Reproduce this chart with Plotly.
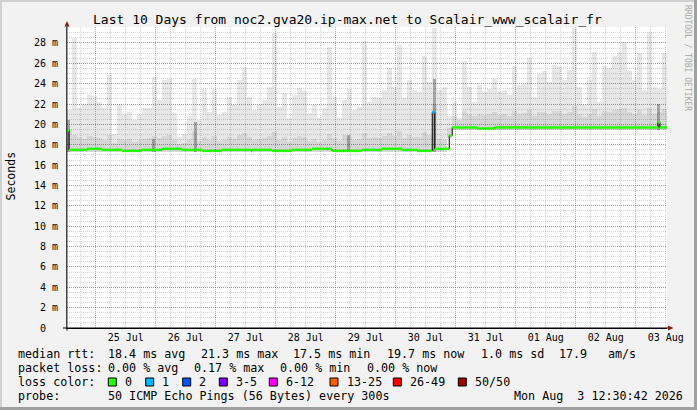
import plotly.graph_objects as go
import pandas as pd

# ---------------- data ----------------
START = "2026-07-24 12:30:42"
END = "2026-08-03 12:30:42"
BIN_HOURS = 2

# smoke envelope per 2-hour bin (ms)
smoke_max = [
    21.4, 28.5, 21.6, 22.0, 22.9, 22.8, 22.2, 21.6, 24.9, 19.1,
    22.0, 21.0, 21.2, 20.4, 20.9, 21.6, 21.6, 24.7, 22.4, 24.4,
    24.5, 21.1, 18.8, 19.1, 20.8, 24.5, 20.4, 23.5, 21.2, 23.5,
    20.9, 21.2, 22.7, 21.9, 24.4, 25.6, 22.7, 21.4, 21.9, 22.4,
    23.7, 29.0, 21.7, 23.1, 20.6, 22.9, 23.6, 23.3, 21.1, 21.9,
    20.6, 21.6, 27.6, 22.7, 20.6, 22.4, 23.5, 21.4, 21.7, 28.2,
    22.2, 22.7, 22.6, 23.4, 25.5, 23.7, 27.8, 22.6, 24.4, 23.4,
    23.2, 26.7, 24.2, 29.5, 23.4, 23.7, 20.8, 22.2, 20.4, 26.2,
    23.7, 22.2, 23.9, 23.2, 23.5, 24.5, 23.2, 23.4, 22.9, 25.7,
    23.9, 24.0, 26.5, 22.7, 25.0, 25.2, 24.2, 25.8, 25.7, 24.4,
    25.3, 29.5, 23.7, 21.9, 24.4, 27.1, 22.2, 25.7, 25.5, 26.7,
    27.1, 28.1, 25.2, 24.4, 27.0, 23.4, 29.1, 23.7, 23.5, 27.0,
]
smoke_mid = [
    19.5, 19.0, 18.8, 18.6, 18.9, 18.8, 18.7, 18.5, 19.0, 18.2,
    18.6, 18.5, 18.6, 18.3, 18.5, 18.6, 18.7, 18.9, 18.7, 18.9,
    19.0, 18.5, 18.1, 18.2, 18.5, 19.4, 18.4, 18.8, 18.5, 18.9,
    18.4, 18.5, 18.8, 18.6, 19.0, 19.2, 18.8, 18.5, 18.6, 18.7,
    18.9, 19.3, 18.5, 18.8, 18.3, 18.7, 18.9, 18.8, 18.4, 18.6,
    18.3, 18.5, 19.1, 18.7, 18.4, 19.0, 18.9, 18.5, 18.6, 19.2,
    18.7, 18.8, 18.7, 18.9, 19.2, 18.9, 19.4, 18.7, 19.0, 18.8,
    18.8, 19.3, 19.0, 22.0, 18.6, 18.5, 19.6, 20.8, 20.6, 21.3,
    21.0, 20.8, 21.0, 20.9, 21.0, 21.2, 20.9, 21.0, 20.8, 21.3,
    21.0, 21.1, 21.4, 20.8, 21.2, 21.2, 21.0, 21.3, 21.3, 21.0,
    21.2, 21.8, 21.0, 20.7, 21.0, 21.5, 20.8, 21.3, 21.2, 21.4,
    21.5, 21.6, 21.2, 21.0, 21.4, 20.9, 21.6, 21.0, 21.2, 21.5,
]
smoke_lo = [
    17.3, 17.3, 17.3, 17.3, 17.3, 17.3, 17.3, 17.3, 17.3, 17.3,
    17.3, 17.3, 17.3, 17.3, 17.3, 17.3, 17.3, 17.3, 17.3, 17.3,
    17.3, 17.3, 17.3, 17.3, 17.3, 17.3, 17.3, 17.3, 17.3, 17.3,
    17.3, 17.3, 17.3, 17.3, 17.3, 17.3, 17.3, 17.3, 17.3, 17.3,
    17.3, 17.3, 17.3, 17.3, 17.3, 17.3, 17.3, 17.3, 17.3, 17.3,
    17.3, 17.3, 17.3, 17.3, 17.3, 17.3, 17.3, 17.3, 17.3, 17.3,
    17.3, 17.3, 17.3, 17.3, 17.3, 17.3, 17.3, 17.3, 17.3, 17.3,
    17.3, 17.3, 17.3, 17.3, 17.3, 17.3, 18.7, 19.5, 19.5, 19.5,
    19.5, 19.5, 19.5, 19.5, 19.5, 19.5, 19.5, 19.5, 19.5, 19.5,
    19.5, 19.5, 19.5, 19.5, 19.5, 19.5, 19.5, 19.5, 19.5, 19.5,
    19.5, 19.5, 19.5, 19.5, 19.5, 19.5, 19.5, 19.5, 19.5, 19.5,
    19.5, 19.5, 19.5, 19.5, 19.5, 19.5, 19.5, 19.5, 19.5, 19.5,
]
# darker smoke columns (hours since start, top in ms)
dark_t = [0.6, 34.6, 51.4, 112.6, 147.0, 236.6]
dark_top = [20.4, 18.6, 20.2, 19.0, 24.5, 22.0]
dark_lo = [17.3, 17.3, 17.3, 17.3, 17.3, 19.5]

# median rtt: step breakpoints (hours since start), value (ms), loss class index
med_t = [0.0, 0.8, 8.0, 14.0, 22.0, 30.0, 38.0, 46.0, 54.0, 62.0, 73.6, 74.0,
         82.0, 90.0, 98.0, 106.0, 110.4, 110.8, 118.0, 126.0, 134.0, 140.0,
         146.1, 147.1, 152.9, 154.1, 164.0, 171.0, 180.0, 200.0, 220.0, 236.4, 237.2]
med_v = [19.4, 17.5, 17.6, 17.5, 17.4, 17.5, 17.6, 17.5, 17.4, 17.5, 17.4, 17.5,
         17.4, 17.5, 17.6, 17.4, 17.4, 17.4, 17.5, 17.6, 17.5, 17.4,
         21.2, 17.6, 18.9, 19.7, 19.6, 19.7, 19.7, 19.7, 19.7, 20.2, 19.7]
med_loss = [0, 0, 0, 0, 0, 0, 0, 0, 0, 0, 1, 0,
            0, 0, 0, 0, 1, 0, 0, 0, 0, 0,
            1, 0, 0, 0, 0, 0, 0, 0, 0, 0, 0]

y_tick_vals = [0, 2, 4, 6, 8, 10, 12, 14, 16, 18, 20, 22, 24, 26, 28]
y_tick_text = ["0\u00a0\u00a0", "2 m", "4 m", "6 m", "8 m", "10 m", "12 m", "14 m",
               "16 m", "18 m", "20 m", "22 m", "24 m", "26 m", "28 m"]

loss_labels = ["0", "1", "2", "3-5", "6-12", "13-25", "26-49", "50/50"]
loss_colors = ["#26ff00", "#00b8ff", "#0059ff", "#7e00ff", "#ff00ff", "#ff5e00", "#ff0000", "#a10000"]

title_text = "Last 10 Days from noc2.gva20.ip-max.net to Scalair_www_scalair_fr"
rtt_stats = ["18.4 ms avg", "21.3 ms max", "17.5 ms min", "19.7 ms now", "1.0 ms sd", "17.9", "am/s"]
loss_stats = ["0.00 % avg", "0.17 % max", "0.00 % min", "0.00 % now"]
probe_text = "50 ICMP Echo Pings (56 Bytes) every 300s"
stamp_text = "Mon Aug  3 12:30:42 2026"

# ---------------- figure ----------------
W, H = 697, 410
L, R, T, B = 67, 30, 27, 82
PW, PH = W - L - R, H - T - B
MONO = "DejaVu Sans Mono"

def px(x):
    return (x - L) / PW

def py(y):
    return (H - B - y) / PH

t0 = pd.Timestamp(START)
n = len(smoke_max)
centers = [t0 + pd.Timedelta(hours=BIN_HOURS * (i + 0.5)) for i in range(n)]
wms = BIN_HOURS * 3600 * 1000

fig = go.Figure()

def band(xs, top, base, color, width):
    fig.add_trace(go.Bar(
        x=xs, y=[a - b for a, b in zip(top, base)], base=base, width=width,
        marker=dict(color=color, line=dict(width=0)),
        hoverinfo="skip", showlegend=False))

band(centers, smoke_max, smoke_lo, "rgba(0,0,0,0.095)", wms)
band(centers, smoke_mid, smoke_lo, "rgba(0,0,0,0.07)", wms)
band([t0 + pd.Timedelta(hours=h) for h in dark_t], dark_top, dark_lo, "rgba(0,0,0,0.28)", 0.9 * 3600 * 1000)

# median line: thin black steps + coloured horizontal segments
mt = [t0 + pd.Timedelta(hours=h) for h in med_t] + [pd.Timestamp(END)]
fig.add_trace(go.Scatter(x=mt, y=med_v + [med_v[-1]], mode="lines",
                         line=dict(color="#000000", width=1, shape="hv"),
                         hoverinfo="skip", showlegend=False))
for ci in sorted(set(med_loss)):
    xs, ys = [], []
    for k in range(len(med_t)):
        if med_loss[k] == ci:
            xs += [mt[k], mt[k + 1], None]
            ys += [med_v[k], med_v[k], None]
    fig.add_trace(go.Scatter(x=xs, y=ys, mode="lines",
                             line=dict(color=loss_colors[ci], width=2.5),
                             hoverinfo="skip", showlegend=False))

RED = "rgba(255,0,0,0.40)"
GRAY = "rgba(120,120,120,0.32)"

fig.update_layout(
    width=W, height=H,
    margin=dict(l=L, r=R, t=T, b=B, pad=0),
    paper_bgcolor="#f2f2f2", plot_bgcolor="#ffffff",
    font=dict(family=MONO, size=10, color="#000000"),
    barmode="overlay", bargap=0, showlegend=False,
    xaxis=dict(
        type="date", range=[START, END], tick0="2026-07-25 00:00:00", dtick=86400000,
        tickformat="%d %b", ticklabelmode="period", ticks="",
        showgrid=True, gridcolor=RED, griddash="1px,1px", gridwidth=1,
        minor=dict(dtick=21600000, tick0="2026-07-25 00:00:00", showgrid=True,
                   gridcolor=GRAY, griddash="1px,1px", gridwidth=1),
        showline=True, linecolor="#000000", linewidth=1, zeroline=False,
        fixedrange=True, tickfont=dict(size=10, family=MONO, color="#000000"),
    ),
    yaxis=dict(
        range=[0, 29.57], tickmode="array", tickvals=y_tick_vals, ticktext=y_tick_text,
        ticks="", showgrid=True, gridcolor=RED, griddash="1px,1px", gridwidth=1,
        minor=dict(dtick=0.5, tick0=0, showgrid=True, gridcolor=GRAY,
                   griddash="1px,1px", gridwidth=1),
        showline=True, linecolor="#404040", linewidth=1, zeroline=False,
        fixedrange=True, tickfont=dict(size=10, family=MONO, color="#000000"),
        ticklabelstandoff=6,
    ),
)

ann = []
def text(x, y, s, size=11.7, color="#000000", xanchor="left", angle=0):
    ann.append(dict(x=px(x), y=py(y), xref="paper", yref="paper", text=s, showarrow=False,
                    xanchor=xanchor, yanchor="middle", textangle=angle,
                    font=dict(family=MONO, size=size, color=color), borderpad=0))

text(347.5, 19, title_text, size=13, xanchor="center")
text(10.7, 176.7, "Seconds", size=11.5, xanchor="center", angle=-90)
text(688, 58, "RRDTOOL / TOBI OETIKER", size=8, color="#a8a8a8", xanchor="center", angle=90)

text(16.7, 354.3, "median rtt:")
for xx, s in zip([107.3, 200, 292.3, 386, 480, 558.3, 607.3], rtt_stats):
    text(xx, 354.3, s)
text(16.7, 368.3, "packet loss:")
for xx, s in zip([107.3, 193.3, 279.3, 366], loss_stats):
    text(xx, 368.3, s)
text(16.7, 382.3, "loss color:")
sq_x = [108.3, 145.7, 182.7, 219.3, 269.3, 330, 393.3, 458.3]
shapes = []
for xx, lab, col in zip(sq_x, loss_labels, loss_colors):
    shapes.append(dict(type="rect", xref="paper", yref="paper",
                       x0=px(xx), x1=px(xx + 8), y0=py(386), y1=py(378),
                       fillcolor=col, line=dict(color="#000000", width=1)))
    text(xx + 15.7, 382.3, lab)
text(16.7, 396.3, "probe:")
text(107.3, 396.3, probe_text)
text(513.3, 396.3, stamp_text)

# axis extensions and arrows
shapes.append(dict(type="line", xref="paper", yref="paper", x0=px(67), x1=px(67),
                   y0=py(331), y1=py(24), line=dict(color="#404040", width=1)))
shapes.append(dict(type="line", xref="paper", yref="paper", x0=px(63), x1=px(669),
                   y0=py(328), y1=py(328), line=dict(color="#000000", width=1)))
shapes.append(dict(type="path", xref="paper", yref="paper",
                   path=f"M {px(64.5)},{py(26.5)} L {px(69.5)},{py(26.5)} L {px(67)},{py(21)} Z",
                   fillcolor="#8b1a1a", line=dict(width=0)))
shapes.append(dict(type="path", xref="paper", yref="paper",
                   path=f"M {px(668)},{py(325.5)} L {px(668)},{py(330.5)} L {px(673.5)},{py(328)} Z",
                   fillcolor="#8b1a1a", line=dict(width=0)))
# image border
shapes.append(dict(type="rect", xref="paper", yref="paper", x0=px(0), x1=px(697), y0=py(2), y1=py(0),
                   fillcolor="#d0d0d0", line=dict(width=0)))
shapes.append(dict(type="rect", xref="paper", yref="paper", x0=px(0), x1=px(2), y0=py(410), y1=py(0),
                   fillcolor="#d0d0d0", line=dict(width=0)))
shapes.append(dict(type="rect", xref="paper", yref="paper", x0=px(0), x1=px(697), y0=py(410), y1=py(407),
                   fillcolor="#a0a0a0", line=dict(width=0)))
shapes.append(dict(type="rect", xref="paper", yref="paper", x0=px(694), x1=px(697), y0=py(410), y1=py(0),
                   fillcolor="#a0a0a0", line=dict(width=0)))

fig.update_layout(annotations=ann, shapes=shapes)
fig.write_html("out.html", config={"displayModeBar": False},
               post_script="document.body.style.margin='0';document.body.style.padding='0';")
